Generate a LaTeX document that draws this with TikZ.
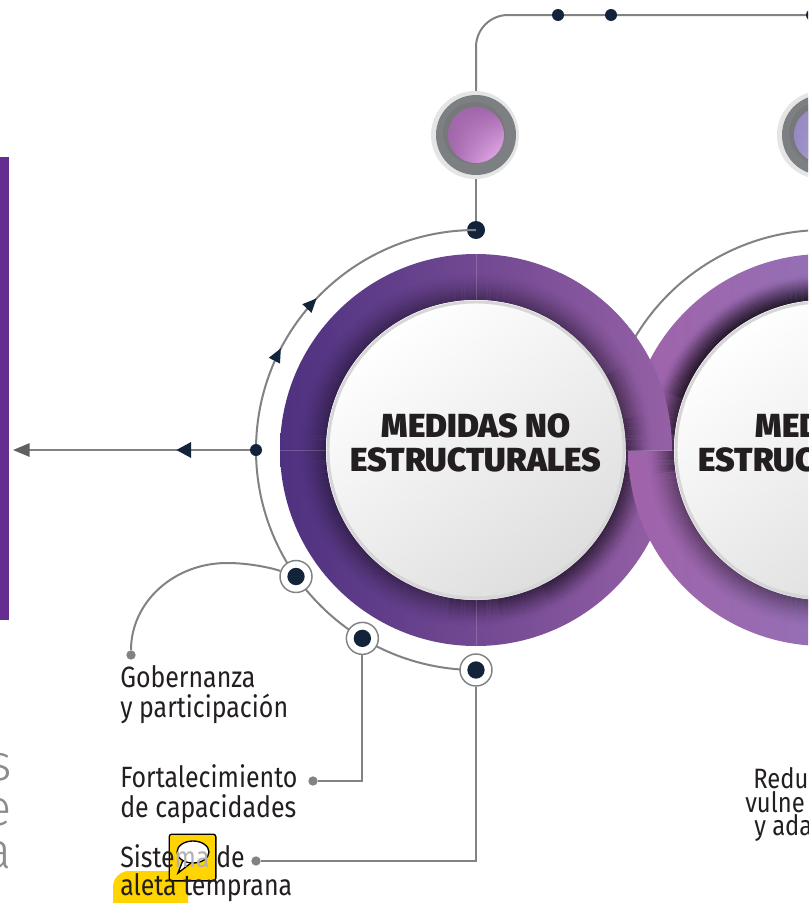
\documentclass[tikz,border=0pt]{standalone}
\usepackage{fontspec}
\setmainfont{Fira Sans}
\newfontfamily\heavyfont{Fira Sans Black}
\newfontfamily\labfont{Fira Sans}[FakeStretch=0.85]
\newfontfamily\thinfont{Fira Sans Light}
\usetikzlibrary{arrows.meta,decorations.markings,calc,shadings}
\definecolor{navy}{HTML}{13233A}
\definecolor{gline}{HTML}{808285}
\definecolor{arrgray}{HTML}{5F6062}
\definecolor{barpurple}{HTML}{652D90}
\definecolor{ringA}{HTML}{4E3180}
\definecolor{ringB}{HTML}{9560A5}
\definecolor{ringC}{HTML}{A062AA}
\definecolor{ringD}{HTML}{877EC0}
\definecolor{txt}{HTML}{231F20}
\definecolor{hl}{HTML}{FFD400}
\definecolor{btngray}{HTML}{7D8083}
\definecolor{pinkA}{HTML}{A066AA}
\definecolor{pinkB}{HTML}{F4B8F6}
\definecolor{lavA}{HTML}{978AC2}
\definecolor{lavB}{HTML}{C9BEEA}
\newcommand{\ringbody}[4]{%
  \shade[left color=#3, right color=#4, even odd rule] (#1,#2) circle[radius=196] (#1,#2) circle[radius=150];
  \foreach \k in {0,...,27}{%
    \pgfmathsetmacro\op{0.34*(1-\k/28)^1.6}%
    \draw[black, opacity=\op, line width=0.8pt] (#1,#2) circle[radius={150.5+\k}];}
  \draw[white, opacity=0.18, line width=0.6pt] (#1,#2-196) -- (#1,#2-150) (#1,#2+150) -- (#1,#2+196)
    (#1-196,#2) -- (#1-150,#2) (#1+150,#2) -- (#1+196,#2);
}
% extra, one-sided inner shadow: centre x, centre y, list of start/end angles, strength
\newcommand{\sideshadow}[4]{%
  \foreach \s/\e in {#3}{%
    \foreach \k in {0,...,22}{%
      \pgfmathsetmacro\op{#4*(1-\k/23)^1.4}%
      \draw[black, opacity=\op, line width=0.8pt] ($(#1,#2)+(\s:{150.5+\k})$) arc[start angle=\s, end angle=\e, radius={150.5+\k}];}}
}
\newcommand{\leftring}{%
  \ringbody{476}{450}{ringA}{ringB}%
  \sideshadow{476}{450}{-30/100, -12/82, 6/64}{0.09}%
}
\newcommand{\whitedisk}[2]{%
  \shade[top color=white, bottom color=black!13, shading angle=35] (#1,#2) circle[radius=150];
  \draw[black!16, line width=2.2pt] (#1,#2) circle[radius=148];
}
\newcommand{\btndraw}[4]{%
  \fill[black!10] (#1-1,#2) circle[radius=44];
  \fill[btngray] (#1,#2) circle[radius=40];
  \fill[black!55, opacity=0.55] (#1-2,#2-2) circle[radius=31];
  \shade[upper left=#3, upper right=#3, lower left=#3, lower right=#4] (#1,#2) circle[radius=28];
}
\begin{document}
\begin{tikzpicture}[x=0.75pt,y=-0.75pt,
  gl/.style={draw=gline, line width=1.5pt},
  navydot/.style={circle, fill=navy, inner sep=0pt, minimum size=#1},
  navydot/.default=9pt,
  ringdot/.style={circle, draw=gline, line width=1.1pt, fill=white, inner sep=0pt, minimum size=24pt,
    path picture={\fill[navy] (path picture bounding box.center) circle[radius=6.5pt];}},
  enddot/.style={circle, fill=gline, inner sep=0pt, minimum size=7pt},
  title/.style={font=\heavyfont\fontsize{25}{26}\selectfont, text=txt, inner sep=0pt, anchor=base},
  lab/.style={font=\labfont\fontsize{22}{26}\selectfont, text=txt, inner sep=0pt, anchor=base west,
    text height=15pt, text depth=4pt},
  rlab/.style={lab, font=\labfont\fontsize{21}{24}\selectfont, text height=13pt, text depth=3pt},
  ghost/.style={font=\thinfont\fontsize{38}{38}\selectfont, text=black!45, inner sep=0pt, anchor=base east,
    text height=18pt, text depth=0pt},
  btnhole/.style={circle, inner sep=0pt, minimum size=60pt},
]
\useasboundingbox (0,0) rectangle (808,903);
\clip (0,0) rectangle (808,903);
\fill[white] (0,0) rectangle (808,903);

% left bar and cut-off letters
\fill[barpurple] (0,157) rectangle (9,620);
\node[ghost] (gs) at (12,780) {s};
\node[ghost] (ge) at (12,825) {e};
\node[ghost] (ga) at (12,868) {a};

\coordinate (cL) at (476,450);
\coordinate (cR) at (824,450);

% right outer arc
\coordinate (rtop) at (824,230);
\draw[gl] (rtop) arc[start angle=270, end angle=200, radius=220];

% top connector
\node[btnhole] (btn1) at (476,135) {};
\node[btnhole] (btn2) at (822,135) {};
\coordinate (tr) at (840,15);
\draw[gl, rounded corners=24pt] (btn1) |- (tr);
\node[navydot] (td1) at (558,15) {};
\node[navydot] (td2) at (611,15) {};
\node[navydot] (td3) at (812,15) {};
\node[navydot=13.5pt] (tdot) at (476,230) {};
\draw[gl] (tdot) -- (btn1);
\btndraw{476}{135}{pinkA}{pinkB}
\btndraw{822}{135}{lavA}{lavB}

% rings
\leftring
\whitedisk{476}{450}
\ringbody{824}{450}{ringC}{ringD}
\sideshadow{824}{450}{172/318, 186/304, 200/290}{0.2}
\whitedisk{824}{450}
\begin{scope}
  \clip (560,0) rectangle (700,450);
  \leftring
\end{scope}
\node[title] (rt1) at (824,437) {MEDIDAS};
\node[title] (rt2) at (824,471) {ESTRUCTURALES};
\node[title] (lt1) at (476,437) {MEDIDAS NO};
\node[title] (lt2) at (476,471) {ESTRUCTURALES};

% left outer arc with arrows
\coordinate (p3) at ($(cL)+(90:220)$);
\draw[gl, postaction={decorate}, decoration={markings,
    mark=at position 0.653 with {\arrow{Triangle[length=10.5pt, width=9pt, color=navy]}},
    mark=at position 0.742 with {\arrow{Triangle[length=10.5pt, width=9pt, color=navy]}}}]
  (p3) arc[start angle=90, end angle=270, radius=220];

% left arrow
\node[navydot] (ldot) at ($(cL)+(180:220)$) {};
\coordinate (lend) at (13,450);
\draw[gl, -{Triangle[length=12.5pt, width=10pt, color=arrgray]}, postaction={decorate},
  decoration={markings, mark=at position 0.31 with {\arrow{Triangle[length=11pt, width=11.5pt, color=navy]}}}]
  (ldot) -- (lend);

% bottom ring dots
\node[ringdot] (b1) at ($(cL)+(144.9:220)$) {};
\node[ringdot] (b2) at ($(cL)+(121.1:220)$) {};
\node[ringdot] (b3) at (p3) {};

% connectors to labels
\node[enddot] (g1) at (131,655) {};
\draw[gl] (g1) .. controls (131,602) and (174,563) .. (227,563) .. controls (252,563) and (275,569) .. (b1);
\node[enddot] (f1) at (313,781) {};
\draw[gl] (b2) |- (f1);
\node[enddot] (s1) at (256,861) {};
\draw[gl] (b3) |- (s1);

% labels
\node[lab] (lg1) at (120,687) {Gobernanza};
\node[lab] (lg2) at (120,717) {y participación};
\node[lab] (lf1) at (120,787) {Fortalecimiento};
\node[lab] (lf2) at (120,817) {de capacidades};
\fill[hl, rounded corners=12pt] (113,871) rectangle (188,925);

% comment icon (under the text, letters behind it shown light)
\node[draw=black, line width=1pt, fill=hl, rounded corners=2pt, minimum size=35pt, inner sep=0pt] (icon) at (192.5,857.5) {};
\draw[black, line width=1pt, fill=white] (183,860) -- (178,873) -- (191,863);
\draw[black, line width=1pt, fill=white] (193,852) ellipse[x radius=16, y radius=11];

\node[lab] (ls1) at (120,867) {Siste{\color{black!30}ma} de};
\node[lab] (ls2) at (120,895) {aleta temprana};

% right labels
\node[rlab] (rl1) at (753,788) {Redu};
\node[rlab] (rl2) at (745,812) {vulne};
\node[rlab] (rl3) at (754,835) {y ada};
\end{tikzpicture}
\end{document}
